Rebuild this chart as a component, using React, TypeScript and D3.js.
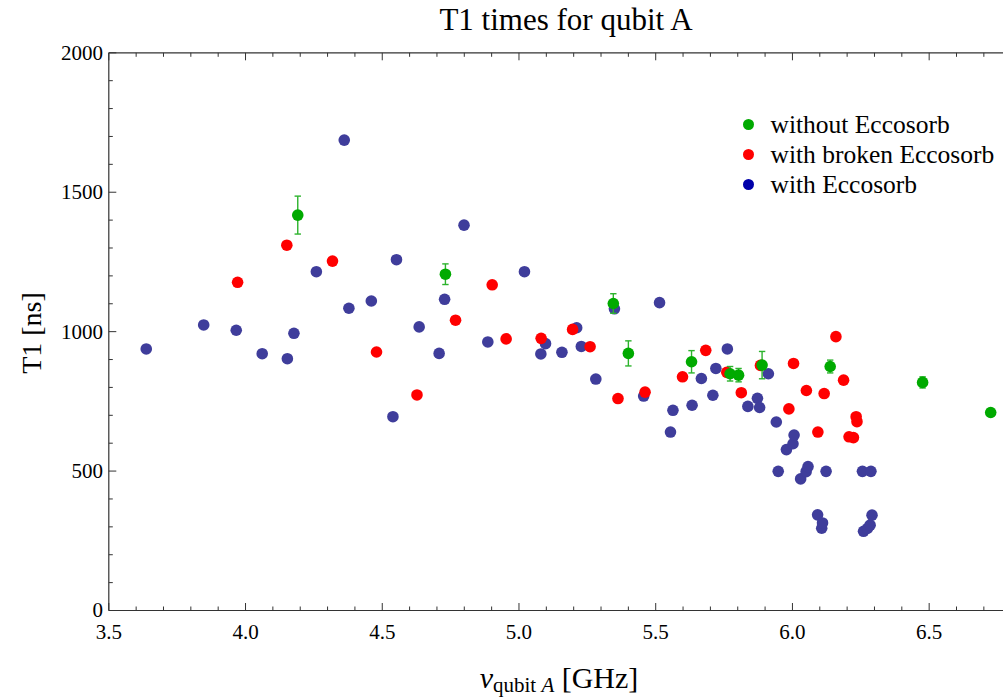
import React from "react";
import * as d3 from "d3";

// with Eccosorb (blue)
const blueFreq = [3.637, 3.847, 3.966, 4.061, 4.153, 4.177, 4.259, 4.361, 4.378, 4.46, 4.539, 4.552, 4.635, 4.708, 4.728, 4.799, 4.886, 5.02, 5.08, 5.097, 5.157, 5.211, 5.228, 5.281, 5.349, 5.456, 5.514, 5.554, 5.563, 5.633, 5.667, 5.709, 5.72, 5.762, 5.837, 5.872, 5.88, 5.912, 5.941, 5.948, 5.978, 6.002, 6.006, 6.03, 6.05, 6.057, 6.092, 6.107, 6.11, 6.123, 6.256, 6.26, 6.274, 6.284, 6.287, 6.291];
const blueT1 = [938, 1024, 1005, 921, 903, 994, 1215, 1687, 1084, 1110, 695, 1258, 1017, 922, 1116, 1382, 963, 1215, 920, 957, 926, 1014, 947, 830, 1082, 769, 1104, 640, 718, 736, 832, 772, 868, 938, 732, 761, 728, 849, 676, 499, 577, 598, 629, 472, 498, 516, 343, 295, 314, 499, 499, 284, 294, 306, 499, 342];

// with broken Eccosorb (red)
const redFreq = [3.971, 4.151, 4.318, 4.479, 4.627, 4.768, 4.902, 4.953, 5.081, 5.196, 5.26, 5.362, 5.461, 5.598, 5.683, 5.76, 5.813, 5.883, 5.987, 6.004, 6.051, 6.093, 6.116, 6.159, 6.187, 6.207, 6.223, 6.233, 6.236];
const redT1 = [1177, 1310, 1253, 927, 773, 1041, 1168, 974, 976, 1008, 946, 760, 783, 838, 933, 854, 781, 879, 723, 886, 789, 640, 778, 982, 826, 623, 620, 695, 677];

// without Eccosorb (green), with error bars
const greenFreq = [4.191, 4.731, 5.345, 5.4, 5.631, 5.772, 5.803, 5.889, 6.138, 6.476, 6.725];
const greenT1 = [1418, 1206, 1101, 922, 892, 849, 844, 880, 875, 818, 710];
const greenErr = [68, 37, 35, 45, 40, 26, 24, 49, 23, 20, 8];

const xTickLabels = ["3.5", "4.0", "4.5", "5.0", "5.5", "6.0", "6.5"];
const yTickLabels = ["0", "500", "1000", "1500", "2000"];
const legendLabels = ["without Eccosorb", "with broken Eccosorb", "with Eccosorb"];

const W = 1003;
const H = 697;
const FONT = "'Liberation Serif', 'Times New Roman', serif";

export default function App() {
  const x = d3.scaleLinear().domain([3.5, 6.77]).range([108.8, 1003]);
  const y = d3.scaleLinear().domain([0, 2000]).range([610.5, 52.8]);

  const xMinor = d3.range(35, 68).map((d) => d / 10);
  const yMinor = d3.range(0, 2001, 100);
  const frame = "#333";
  const R = 5.8;

  const blue = blueFreq.map((f, i) => ({ f, t: blueT1[i] }));
  const red = redFreq.map((f, i) => ({ f, t: redT1[i] }));
  const green = greenFreq.map((f, i) => ({ f, t: greenT1[i], e: greenErr[i] }));

  const legendColors = ["#00aa00", "#ff0000", "#0000aa"];

  return (
    <svg width={W} height={H} style={{ display: "block", position: "absolute", left: 0, top: 0, background: "#fff" }} fontFamily={FONT}>
      <rect x={0} y={0} width={W} height={H} fill="#fff" />
      {/* title */}
      <text x={566} y={30} fontSize={31} textAnchor="middle" fill="#000">T1 times for qubit A</text>

      {/* frame */}
      <line x1={x(3.5)} x2={W + 5} y1={y(0)} y2={y(0)} stroke={frame} strokeWidth={1.2} />
      <line x1={x(3.5)} x2={W + 5} y1={y(2000)} y2={y(2000)} stroke={frame} strokeWidth={1.2} />
      <line x1={x(3.5)} x2={x(3.5)} y1={y(0)} y2={y(2000)} stroke={frame} strokeWidth={1.2} />

      {/* x ticks */}
      {xMinor.map((v, i) => {
        const major = Math.round(v * 10) % 5 === 0;
        const len = major ? 7.5 : 4;
        const px = x(v);
        return (
          <g key={"xt" + i}>
            <line x1={px} x2={px} y1={y(0)} y2={y(0) - len} stroke={frame} strokeWidth={1} />
            <line x1={px} x2={px} y1={y(2000)} y2={y(2000) + len} stroke={frame} strokeWidth={1} />
          </g>
        );
      })}
      {xTickLabels.map((l) => (
        <text key={"xl" + l} x={x(+l)} y={639} fontSize={21} textAnchor="middle" fill="#000">{l}</text>
      ))}

      {/* y ticks */}
      {yMinor.map((v) => {
        const major = v % 500 === 0;
        const len = major ? 7.5 : 4;
        return <line key={"yt" + v} x1={x(3.5)} x2={x(3.5) + len} y1={y(v)} y2={y(v)} stroke={frame} strokeWidth={1} />;
      })}
      {yTickLabels.map((l) => (
        <text key={"yl" + l} x={103} y={y(+l)} dy="0.33em" fontSize={21} textAnchor="end" fill="#000">{l}</text>
      ))}

      {/* axis labels */}
      <text transform={`translate(41,333) rotate(-90)`} fontSize={28} textAnchor="middle" fill="#000">T1 [ns]</text>
      <text x={559} y={688} fontSize={30} textAnchor="middle" fill="#000">
        <tspan fontStyle="italic">ν</tspan>
        <tspan fontSize={21} dy={4}>qubit </tspan>
        <tspan fontSize={21} fontStyle="italic">A</tspan>
        <tspan dy={-4}> [GHz]</tspan>
      </text>

      {/* data */}
      <g>
        {blue.map((d, i) => (
          <circle key={"b" + i} cx={x(d.f)} cy={y(d.t)} r={R} fill="#3f3d9b" />
        ))}
        {red.map((d, i) => (
          <circle key={"r" + i} cx={x(d.f)} cy={y(d.t)} r={R} fill="#ff0000" />
        ))}
        {green.map((d, i) => {
          const cx = x(d.f);
          const y1 = y(d.t + d.e);
          const y2 = y(d.t - d.e);
          return (
            <g key={"g" + i}>
              <line x1={cx} x2={cx} y1={y1} y2={y2} stroke="#2db32d" strokeWidth={1.4} />
              <line x1={cx - 3.2} x2={cx + 3.2} y1={y1} y2={y1} stroke="#2db32d" strokeWidth={1.4} />
              <line x1={cx - 3.2} x2={cx + 3.2} y1={y2} y2={y2} stroke="#2db32d" strokeWidth={1.4} />
              <circle cx={cx} cy={y(d.t)} r={R} fill="#00aa00" />
            </g>
          );
        })}
      </g>

      {/* legend */}
      {legendLabels.map((l, i) => (
        <g key={"lg" + i}>
          <circle cx={748.5} cy={124.5 + i * 30} r={5.5} fill={legendColors[i]} />
          <text x={770.5} y={124.5 + i * 30} dy="0.33em" fontSize={25.5} fill="#000">{l}</text>
        </g>
      ))}
    </svg>
  );
}
